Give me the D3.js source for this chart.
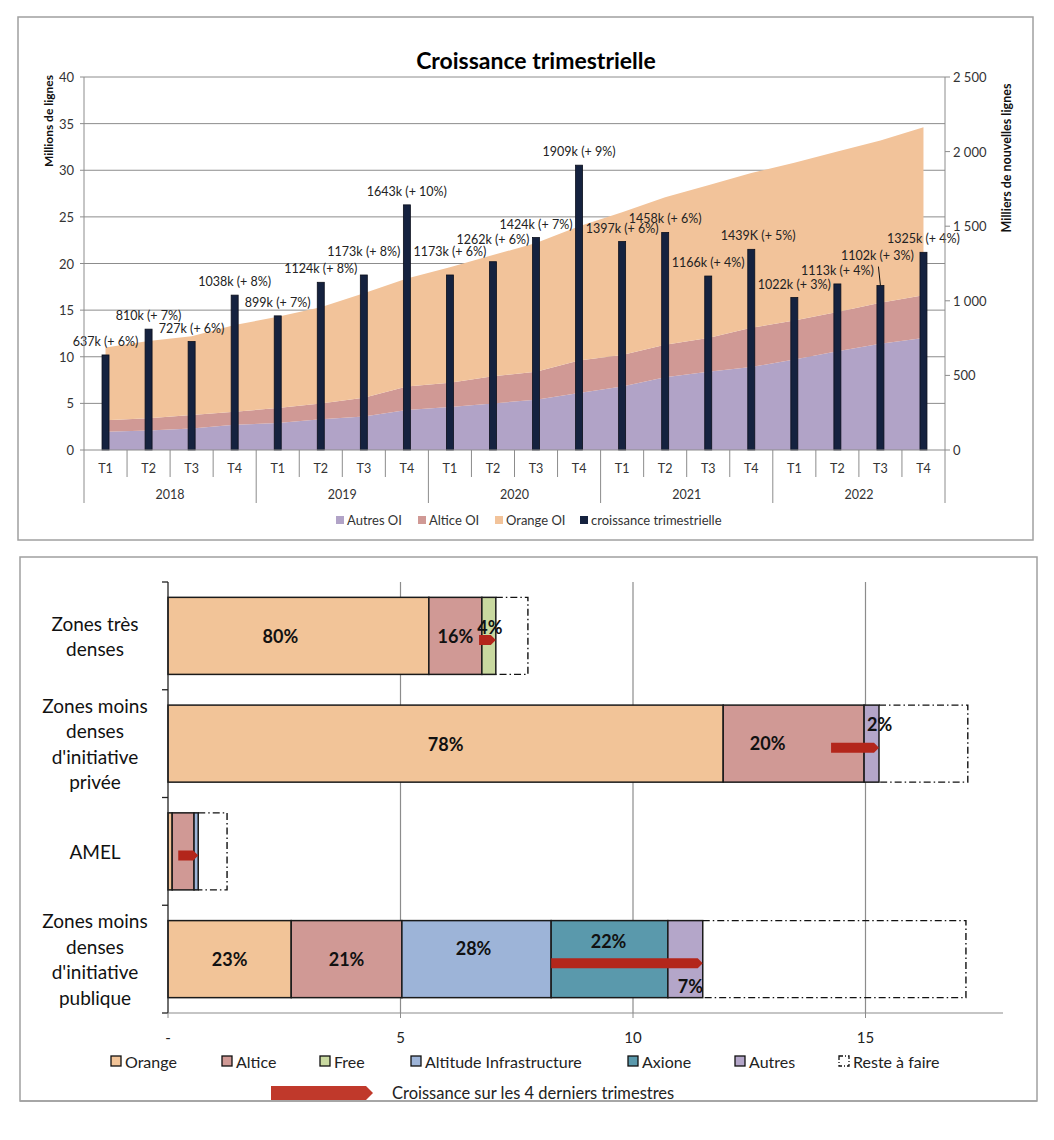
<!DOCTYPE html>
<html>
<head>
<meta charset="utf-8">
<script src="https://cdn.jsdelivr.net/npm/d3@7"></script>
<style>
  body { margin: 0; background: #fff; }
  svg text { font-family: Lato, "Open Sans", sans-serif; }
</style>
</head>
<body>
<script>
// ---------- data : croissance trimestrielle ----------
var quarters = ["T1","T2","T3","T4","T1","T2","T3","T4","T1","T2","T3","T4","T1","T2","T3","T4","T1","T2","T3","T4"];
var years = ["2018","2019","2020","2021","2022"];
// millions de lignes (empilé : Autres, Altice, Orange)
var autresOI = [1.95, 2.1, 2.3, 2.7, 2.9, 3.3, 3.6, 4.3, 4.6, 5.0, 5.4, 6.1, 6.8, 7.8, 8.4, 8.9, 9.7, 10.6, 11.4, 12.0];
var alticeOI = [1.25, 1.3, 1.45, 1.4, 1.6, 1.7, 2.0, 2.5, 2.6, 2.9, 3.0, 3.5, 3.4, 3.5, 3.6, 4.2, 4.2, 4.2, 4.4, 4.6];
var orangeOI = [7.8, 8.3, 8.45, 9.3, 9.8, 10.3, 11.2, 11.6, 12.4, 13.0, 13.8, 14.4, 15.3, 15.8, 16.4, 16.6, 16.9, 17.2, 17.4, 18.0];
// milliers de nouvelles lignes
var croissance = [637, 810, 727, 1038, 899, 1124, 1173, 1643, 1173, 1262, 1424, 1909, 1397, 1458, 1166, 1345, 1022, 1113, 1102, 1325];
var croissanceLabels = ["637k (+ 6%)","810k (+ 7%)","727k (+ 6%)","1038k (+ 8%)","899k (+ 7%)","1124k (+ 8%)","1173k (+ 8%)","1643k (+ 10%)",
  "1173k (+ 6%)","1262k (+ 6%)","1424k (+ 7%)","1909k (+ 9%)","1397k (+ 6%)","1458k (+ 6%)","1166k (+ 4%)","1439K (+ 5%)",
  "1022k (+ 3%)","1113k (+ 4%)","1102k (+ 3%)","1325k (+ 4%)"];
var leftTicks = [0, 5, 10, 15, 20, 25, 30, 35, 40];
var rightTicks = [0, 500, 1000, 1500, 2000, 2500];

// ---------- data : déploiement par zone ----------
var zones = ["Zones très denses", "Zones moins denses d'initiative privée", "AMEL", "Zones moins denses d'initiative publique"];
var zoneLines = [["Zones très", "denses"], ["Zones moins", "denses", "d'initiative", "privée"], ["AMEL"], ["Zones moins", "denses", "d'initiative", "publique"]];
var operators = ["Orange", "Altice", "Free", "Altitude Infrastructure", "Axione", "Autres"];
var orangeZ   = [5.61, 11.94, 0.09, 2.65];
var alticeZ   = [1.14, 3.03, 0.47, 2.38];
var freeZ     = [0.30, 0, 0, 0];
var altitudeZ = [0, 0, 0.09, 3.21];
var axioneZ   = [0, 0, 0, 2.51];
var autresZ   = [0, 0.32, 0, 0.75];
var resteZ    = [0.69, 1.91, 0.62, 5.66];
var growthZ   = [0.36, 1.03, 0.43, 3.26];
var bottomTicks = [0, 5, 10, 15];

var W = 1054, H = 1140;
var svg = d3.select("body").append("svg").attr("width", W).attr("height", H);

// ================= TOP CHART =================
var gTop = svg.append("g");
gTop.append("rect").attr("x", 18).attr("y", 17).attr("width", 1015).attr("height", 523)
  .attr("fill", "#fff").attr("stroke", "#a0a0a0").attr("stroke-width", 1.5);

var x = d3.scaleBand().domain(d3.range(quarters.length)).range([84, 945]);
var yL = d3.scaleLinear().domain([0, 40]).range([450, 77]);
var yR = d3.scaleLinear().domain([0, 2500]).range([450, 77]);
var cx = function(i) { return x(i) + x.bandwidth() / 2; };

// gridlines
gTop.selectAll("line.grid").data(leftTicks.slice(1)).enter().append("line")
  .attr("x1", 84).attr("x2", 945).attr("y1", d => yL(d)).attr("y2", d => yL(d))
  .attr("stroke", "#8c8c8c").attr("stroke-width", 1);

// stacked areas
var rows = quarters.map(function(q, i) { return {i: i, autres: autresOI[i], altice: alticeOI[i], orange: orangeOI[i]}; });
var stack = d3.stack().keys(["autres", "altice", "orange"]);
var areaColors = {autres: "#b1a3c7", altice: "#d09995", orange: "#f2c39a"};
var area = d3.area().x(d => cx(d.data.i)).y0(d => yL(d[0])).y1(d => yL(d[1]));
gTop.selectAll("path.area").data(stack(rows)).enter().append("path")
  .attr("d", area).attr("fill", d => areaColors[d.key]);

// bars
var barW = 7;
gTop.selectAll("rect.bar").data(croissance).enter().append("rect")
  .attr("x", (d, i) => cx(i) - barW / 2).attr("y", d => yR(d))
  .attr("width", barW).attr("height", d => yR(0) - yR(d))
  .attr("fill", "#15223f").attr("stroke", "#0b0f1c").attr("stroke-width", 0.8);

// bar labels (extra lift where Excel moved them)
var lift = {6: 10, 8: 10, 9: 9, 18: 17};
gTop.selectAll("text.blabel").data(croissanceLabels).enter().append("text")
  .attr("x", (d, i) => cx(i) + (i === 15 ? 7 : 0) + (i === 18 ? -3 : 0))
  .attr("y", (d, i) => yR(croissance[i]) - 13.5 - (lift[i] || 0))
  .attr("text-anchor", "middle").attr("dominant-baseline", "central")
  .attr("font-size", 12.5).attr("fill", "#222").text(d => d);
// leader line for 1102k
gTop.append("line").attr("x1", cx(18) - 2).attr("y1", yR(croissance[18]) - 19)
  .attr("x2", cx(18)).attr("y2", yR(croissance[18]))
  .attr("stroke", "#111").attr("stroke-width", 1);

// left axis
gTop.append("line").attr("x1", 84).attr("x2", 84).attr("y1", 77).attr("y2", 503).attr("stroke", "#8c8c8c");
gTop.selectAll("line.lt").data(leftTicks).enter().append("line")
  .attr("x1", 80).attr("x2", 84).attr("y1", d => yL(d)).attr("y2", d => yL(d)).attr("stroke", "#8c8c8c");
gTop.selectAll("text.lt").data(leftTicks).enter().append("text")
  .attr("x", 74).attr("y", d => yL(d)).attr("text-anchor", "end").attr("dominant-baseline", "central")
  .attr("font-size", 13).attr("fill", "#333").text(d => d);
gTop.append("text").attr("transform", "translate(48,121) rotate(-90)").attr("text-anchor", "middle")
  .attr("dominant-baseline", "central").attr("font-size", 12).attr("font-weight", "bold").attr("fill", "#111")
  .text("Millions de lignes");

// right axis
gTop.append("line").attr("x1", 945).attr("x2", 945).attr("y1", 77).attr("y2", 503).attr("stroke", "#8c8c8c");
gTop.selectAll("line.rt").data(rightTicks).enter().append("line")
  .attr("x1", 945).attr("x2", 950).attr("y1", d => yR(d)).attr("y2", d => yR(d)).attr("stroke", "#8c8c8c");
var fmtR = function(d) { return d3.format(",")(d).replace(/,/g, " "); };
gTop.selectAll("text.rt").data(rightTicks).enter().append("text")
  .attr("x", 953).attr("y", d => yR(d)).attr("dominant-baseline", "central")
  .attr("font-size", 13).attr("fill", "#333").text(fmtR);
gTop.append("text").attr("transform", "translate(1006,158) rotate(-90)").attr("text-anchor", "middle")
  .attr("dominant-baseline", "central").attr("font-size", 12.5).attr("font-weight", "bold").attr("fill", "#111")
  .text("Milliers de nouvelles lignes");

// category axis
gTop.append("line").attr("x1", 84).attr("x2", 945).attr("y1", 450).attr("y2", 450).attr("stroke", "#8c8c8c");
gTop.selectAll("line.qt").data(d3.range(1, quarters.length)).enter().append("line")
  .attr("x1", d => x(d)).attr("x2", d => x(d)).attr("y1", 450).attr("y2", d => d % 4 === 0 ? 503 : 477)
  .attr("stroke", "#8c8c8c");
gTop.selectAll("text.q").data(quarters).enter().append("text")
  .attr("x", (d, i) => cx(i)).attr("y", 468).attr("text-anchor", "middle").attr("dominant-baseline", "central")
  .attr("font-size", 12.5).attr("fill", "#333").text(d => d);
gTop.selectAll("text.yr").data(years).enter().append("text")
  .attr("x", (d, i) => (x(i * 4) + x(i * 4 + 3) + x.bandwidth()) / 2).attr("y", 494)
  .attr("text-anchor", "middle").attr("dominant-baseline", "central")
  .attr("font-size", 12.5).attr("fill", "#333").text(d => d);

// title
gTop.append("text").attr("x", 536).attr("y", 60).attr("text-anchor", "middle").attr("dominant-baseline", "central")
  .attr("font-size", 23).attr("font-weight", "bold").attr("fill", "#000").text("Croissance trimestrielle");

// legend
var topLegend = [["Autres OI", "#b1a3c7", 336], ["Altice OI", "#d09995", 418], ["Orange OI", "#f2c39a", 495], ["croissance trimestrielle", "#15223f", 580]];
var tl = gTop.selectAll("g.tl").data(topLegend).enter().append("g");
tl.append("rect").attr("x", d => d[2]).attr("y", 516).attr("width", 8).attr("height", 8).attr("fill", d => d[1]);
tl.append("text").attr("x", d => d[2] + 11).attr("y", 520).attr("dominant-baseline", "central")
  .attr("font-size", 13).attr("fill", "#333").text(d => d[0]);

// ================= BOTTOM CHART =================
var bot = svg.append("g");
bot.append("rect").attr("x", 20).attr("y", 557).attr("width", 1017).attr("height", 544)
  .attr("fill", "#fff").attr("stroke", "#a0a0a0").attr("stroke-width", 1.5);

var xb = d3.scaleLinear().domain([0, 18]).range([168, 1005]);
var yb = d3.scaleBand().domain(zones).range([582, 1013]).paddingInner(0.285).paddingOuter(0.1425);

// vertical gridlines
bot.selectAll("line.vg").data(bottomTicks.slice(1)).enter().append("line")
  .attr("x1", d => xb(d)).attr("x2", d => xb(d)).attr("y1", 582).attr("y2", 1013)
  .attr("stroke", "#8c8c8c").attr("stroke-width", 1.2);

var opColors = ["#f2c498", "#d09995", "#c9d9a0", "#9db4d8", "#5a99ac", "#b4a6c9"];
var opValues = [orangeZ, alticeZ, freeZ, altitudeZ, axioneZ, autresZ];
var zrows = zones.map(function(z, j) {
  var r = {zone: z};
  operators.forEach(function(o, k) { r[o] = opValues[k][j]; });
  return r;
});
var zstack = d3.stack().keys(operators)(zrows);

// label nudges [dx, dy] by "zoneIndex-operatorIndex"
var nudge = {"0-0": [-18, 0], "0-2": [1, -9], "1-1": [-26, -1], "1-5": [8, -20], "3-3": [-3, -11], "3-4": [-1, -18], "3-5": [5, 27]};

zstack.forEach(function(series, k) {
  series.forEach(function(d, j) {
    if (d[1] - d[0] <= 0) return;
    bot.append("rect").attr("x", xb(d[0])).attr("y", yb(zones[j]))
      .attr("width", xb(d[1]) - xb(d[0])).attr("height", yb.bandwidth())
      .attr("fill", opColors[k]).attr("stroke", "#1a1a1a").attr("stroke-width", 1.5);
  });
});

// reste à faire (dash-dot frame)
zones.forEach(function(z, j) {
  var built = zstack[zstack.length - 1][j][1];
  var x0 = xb(built), x1 = xb(built + resteZ[j]), y0 = yb(z), y1 = yb(z) + yb.bandwidth();
  bot.append("path").attr("d", "M" + x0 + "," + y0 + "H" + x1 + "V" + y1 + "H" + x0)
    .attr("fill", "none").attr("stroke", "#111").attr("stroke-width", 1.4).attr("stroke-dasharray", "7,3,1.5,3");
});

// percentage labels
zstack.forEach(function(series, k) {
  series.forEach(function(d, j) {
    if (d[1] - d[0] <= 0 || zones[j] === "AMEL") return;
    var total = zstack[zstack.length - 1][j][1];
    var n = nudge[j + "-" + k] || [0, 0];
    bot.append("text").attr("x", (xb(d[0]) + xb(d[1])) / 2 + n[0])
      .attr("y", yb(zones[j]) + yb.bandwidth() / 2 + n[1])
      .attr("text-anchor", "middle").attr("dominant-baseline", "central")
      .attr("font-size", 18).attr("font-weight", "bold").attr("fill", "#111")
      .text(Math.round((d[1] - d[0]) / total * 100) + "%");
  });
});

// growth arrows
function arrow(g, x0, x1, yc, h, color) {
  var t = Math.min(h / 2, (x1 - x0) / 2);
  g.append("polygon").attr("points", [[x0, yc - h / 2], [x1 - t, yc - h / 2], [x1, yc], [x1 - t, yc + h / 2], [x0, yc + h / 2]].join(" "))
    .attr("fill", color);
}
zones.forEach(function(z, j) {
  var built = zstack[zstack.length - 1][j][1];
  arrow(bot, xb(built - growthZ[j]), xb(built), yb(z) + yb.bandwidth() / 2 + 4, 10, "#b3261b");
});

// category axis
bot.append("line").attr("x1", 168).attr("x2", 168).attr("y1", 582).attr("y2", 1013).attr("stroke", "#222").attr("stroke-width", 1.3);
var bounds = zones.map(z => yb(z) - yb.step() * 0.1425).concat([1013]);
bot.selectAll("line.zt").data(bounds).enter().append("line")
  .attr("x1", 162).attr("x2", 168).attr("y1", d => d).attr("y2", d => d).attr("stroke", "#222").attr("stroke-width", 1.3);
zoneLines.forEach(function(lines, j) {
  var yc = yb(zones[j]) + yb.bandwidth() / 2;
  var lh = 25.5;
  lines.forEach(function(l, m) {
    bot.append("text").attr("x", 95).attr("y", yc + (m - (lines.length - 1) / 2) * lh)
      .attr("text-anchor", "middle").attr("dominant-baseline", "central")
      .attr("font-size", 19).attr("fill", "#111").text(l);
  });
});

// value axis
bot.append("line").attr("x1", 168).attr("x2", 1003).attr("y1", 1013).attr("y2", 1013).attr("stroke", "#8c8c8c").attr("stroke-width", 1.2);
bot.selectAll("line.bt").data(bottomTicks).enter().append("line")
  .attr("x1", d => xb(d)).attr("x2", d => xb(d)).attr("y1", 1013).attr("y2", 1018).attr("stroke", "#8c8c8c");
bot.selectAll("text.bt").data(bottomTicks).enter().append("text")
  .attr("x", d => xb(d)).attr("y", 1037).attr("text-anchor", "middle").attr("dominant-baseline", "central")
  .attr("font-size", 15).attr("fill", "#222").text(d => d === 0 ? "-" : d);

// legend
var legX = [111, 222, 320, 411, 628, 735];
operators.forEach(function(o, k) {
  bot.append("rect").attr("x", legX[k]).attr("y", 1056).attr("width", 10).attr("height", 10)
    .attr("fill", opColors[k]).attr("stroke", "#111").attr("stroke-width", 1.3);
  bot.append("text").attr("x", legX[k] + 14).attr("y", 1061).attr("dominant-baseline", "central")
    .attr("font-size", 16).attr("fill", "#222").text(o);
});
bot.append("rect").attr("x", 839).attr("y", 1056).attr("width", 10).attr("height", 10)
  .attr("fill", "none").attr("stroke", "#111").attr("stroke-width", 1.3).attr("stroke-dasharray", "4,2,1,2");
bot.append("text").attr("x", 853).attr("y", 1061).attr("dominant-baseline", "central")
  .attr("font-size", 16).attr("fill", "#222").text("Reste à faire");
arrow(bot, 271, 373, 1093, 14, "#c0392b");
bot.append("text").attr("x", 392).attr("y", 1093).attr("dominant-baseline", "central")
  .attr("font-size", 16.5).attr("fill", "#222").text("Croissance sur les 4 derniers trimestres");
// bottom edge of frame drawn over the legend, as in the source
bot.append("line").attr("x1", 20).attr("x2", 1037).attr("y1", 1101).attr("y2", 1101).attr("stroke", "#a0a0a0").attr("stroke-width", 1.5);
</script>
</body>
</html>
